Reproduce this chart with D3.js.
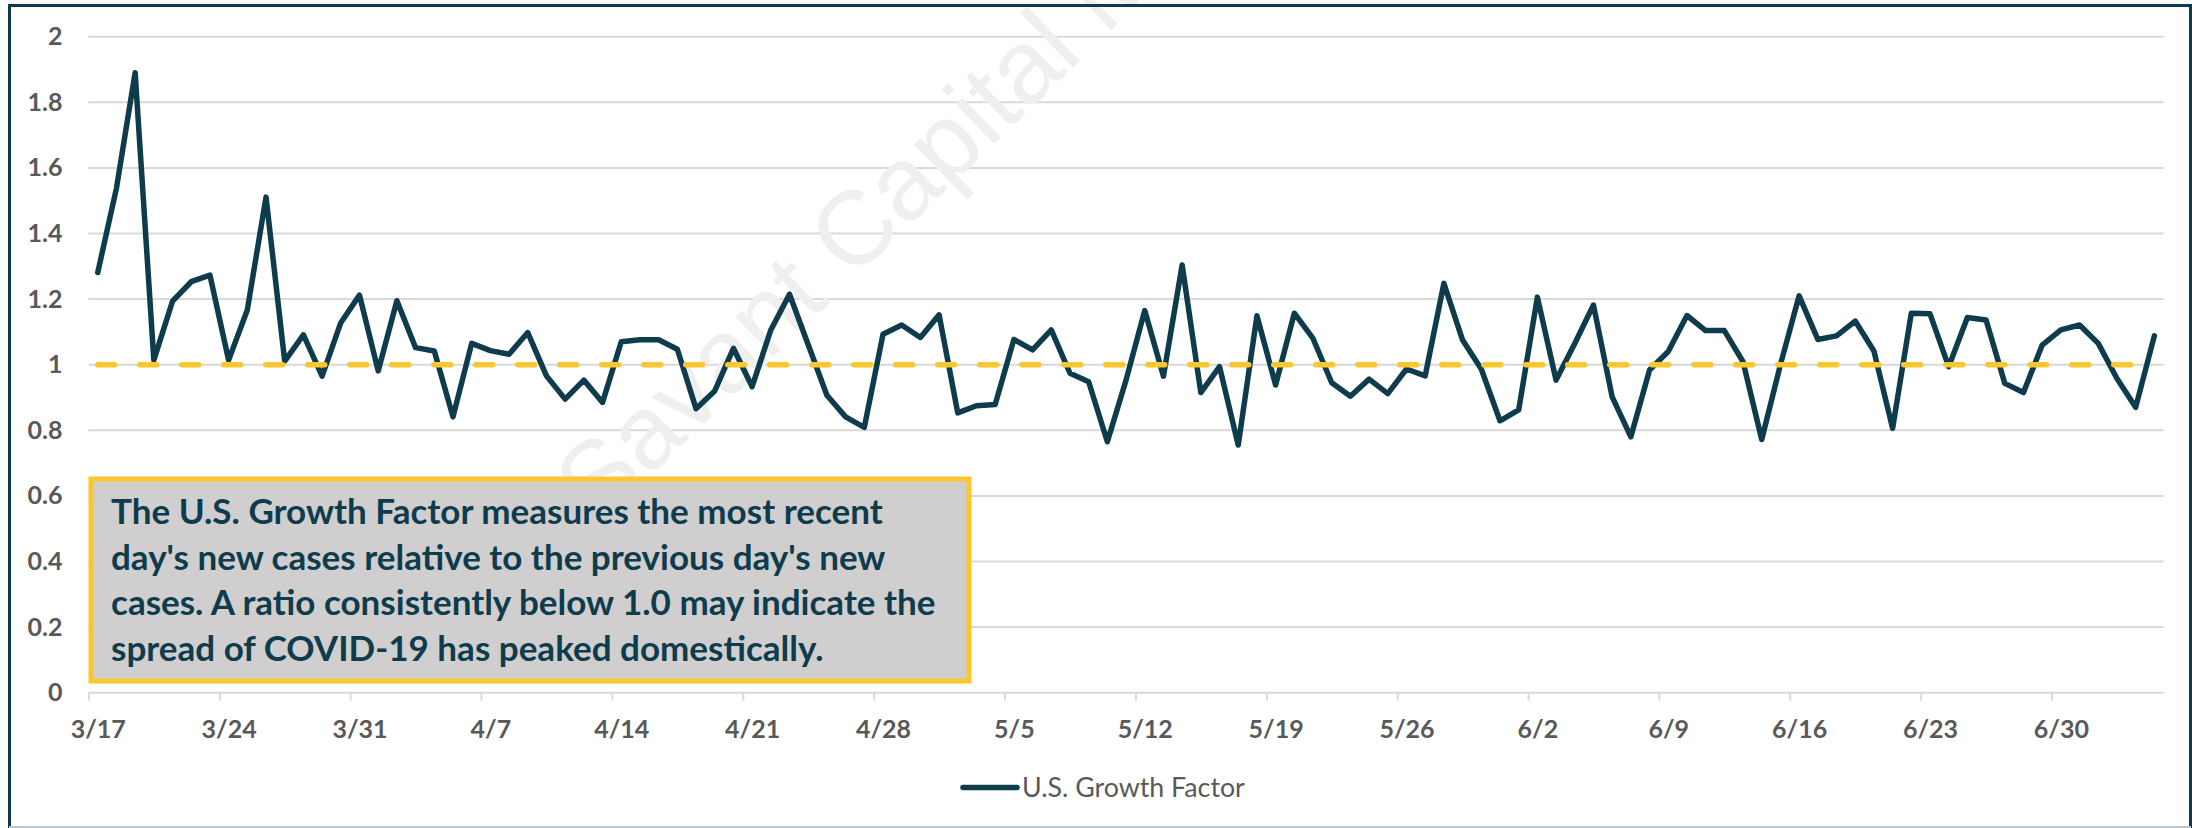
<!DOCTYPE html>
<html><head><meta charset="utf-8">
<script src="https://cdn.jsdelivr.net/npm/d3@7"></script>
<style>html,body{margin:0;padding:0;background:#fff;}svg{display:block}</style>
</head><body><svg id="c" width="2192" height="828"></svg>
<script>
// ---------- data ----------
const startDate = "2020-03-17";
const growthFactor = [
 1.281,1.538,1.890,1.014,1.194,1.253,1.273,1.014,1.167,1.511,
 1.011,1.091,0.965,1.128,1.212,0.981,1.195,1.052,1.042,0.841,
 1.065,1.043,1.032,1.098,0.966,0.895,0.953,0.885,1.070,1.076,
 1.076,1.047,0.866,0.920,1.050,0.933,1.106,1.215,1.061,0.907,
 0.841,0.809,1.093,1.121,1.083,1.152,0.853,0.875,0.879,1.077,
 1.045,1.106,0.974,0.948,0.765,0.953,1.165,0.965,1.304,0.915,
 0.994,0.755,1.149,0.938,1.157,1.080,0.945,0.904,0.956,0.912,
 0.987,0.966,1.248,1.075,0.987,0.829,0.862,1.206,0.953,1.065,
 1.182,0.902,0.780,0.984,1.040,1.150,1.104,1.104,1.009,0.772,
 1.000,1.210,1.077,1.088,1.133,1.042,0.806,1.157,1.155,0.994,
 1.144,1.136,0.943,0.915,1.060,1.106,1.121,1.065,0.958,0.870,
 1.088
];
const thresholdValue = 1.0;
const xTickLabels = ["3/17","3/24","3/31","4/7","4/14","4/21","4/28","5/5","5/12","5/19","5/26","6/2","6/9","6/16","6/23","6/30"];
const yTicks = [0,0.2,0.4,0.6,0.8,1,1.2,1.4,1.6,1.8,2];
const yTickLabels = ["0","0.2","0.4","0.6","0.8","1","1.2","1.4","1.6","1.8","2"];
const seriesName = "U.S. Growth Factor";
const noteLines = [
 "The U.S. Growth Factor measures the most recent",
 "day's new cases relative to the previous day's new",
 "cases. A ratio consistently below 1.0 may indicate the",
 "spread of COVID-19 has peaked domestically."
];
const watermarkText = "Savant Capital Management";

// ---------- setup ----------
const svg = d3.select("#c");
const W = 2192, H = 828;
const plot = {left: 88.4, right: 2163.7, top: 36.7, bottom: 692.7};
const C_LINE = "#0e3c4c", C_GOLD = "#fcc72e", C_GRID = "#d9d9d9", C_TXT = "#595959";
const FONT = "Lato, 'Open Sans', sans-serif";

const parse = d3.utcParse("%Y-%m-%d");
const d0 = parse(startDate);
const dates = growthFactor.map((_, i) => d3.utcDay.offset(d0, i));
const half = 12 * 3600 * 1000;
const x = d3.scaleUtc()
  .domain([new Date(+dates[0] - half), new Date(+dates[dates.length - 1] + half)])
  .range([plot.left, plot.right]);
const y = d3.scaleLinear().domain([0, 2]).range([plot.bottom, plot.top]);

const series = dates.map((d, i) => ({date: d, v: growthFactor[i]}));
const thresh = dates.map(d => ({date: d, v: thresholdValue}));

// ---------- gridlines ----------
svg.append("g").selectAll("line").data(yTicks).join("line")
  .attr("x1", plot.left).attr("x2", plot.right)
  .attr("y1", d => y(d)).attr("y2", d => y(d))
  .attr("stroke", C_GRID).attr("stroke-width", 2);

// ---------- watermark ----------
svg.append("text")
  .attr("transform", "translate(598,526) rotate(-44)")
  .attr("font-family", "'Liberation Sans', Arial, sans-serif")
  .attr("font-size", 104)
  .attr("fill", "#efefef")
  .text(watermarkText);

// ---------- y axis labels ----------
const yAxis = d3.axisLeft(y).tickValues(yTicks)
  .tickFormat((d, i) => yTickLabels[i]).tickSize(0).tickPadding(26);
const gy = svg.append("g").attr("transform", `translate(${plot.left},0)`).call(yAxis);
gy.select(".domain").remove();
gy.selectAll("text").attr("font-family", FONT).attr("font-size", 25)
  .attr("font-weight", "bold").attr("fill", C_TXT);

// ---------- x axis ----------
const labelDates = xTickLabels.map((_, i) => d3.utcDay.offset(d0, i * 7));
const tickBoundaries = labelDates.map(d => new Date(+d - half));
const gxTicks = svg.append("g").attr("transform", `translate(0,${plot.bottom})`)
  .call(d3.axisBottom(x).tickValues(tickBoundaries).tickFormat("").tickSize(8));
gxTicks.select(".domain").remove();
gxTicks.selectAll("line").attr("stroke", C_GRID).attr("stroke-width", 2);

const gx = svg.append("g").attr("transform", `translate(0,${plot.bottom})`)
  .call(d3.axisBottom(x).tickValues(labelDates).tickFormat((d, i) => xTickLabels[i]).tickSize(0).tickPadding(0));
gx.select(".domain").remove();
gx.selectAll("text").attr("dy", null).attr("y", 45)
  .attr("font-family", FONT).attr("font-size", 25)
  .attr("font-weight", "bold").attr("fill", C_TXT);

// ---------- lines ----------
const line = d3.line().x(d => x(d.date)).y(d => y(d.v));
svg.append("path").datum(series).attr("d", line)
  .attr("fill", "none").attr("stroke", C_LINE).attr("stroke-width", 5.5)
  .attr("stroke-linejoin", "round").attr("stroke-linecap", "round");
svg.append("path").datum(thresh).attr("d", line)
  .attr("fill", "none").attr("stroke", C_GOLD).attr("stroke-width", 5.5)
  .attr("stroke-dasharray", "17,25").attr("stroke-linecap", "round");

// ---------- annotation box ----------
svg.append("rect").attr("x", 91).attr("y", 479).attr("width", 878).attr("height", 202)
  .attr("fill", "#d0cecf").attr("stroke", C_GOLD).attr("stroke-width", 5);
const noteG = svg.append("g");
const noteBase = [524, 569.6, 615.2, 660.8];
const noteT = noteG.selectAll("text").data(noteLines).join("text")
  .attr("x", 111).attr("y", (d, i) => noteBase[i])
  .attr("font-family", FONT).attr("font-weight", "bold").attr("font-size", 30)
  .attr("fill", C_LINE).text(d => d);
{
  const w = noteT.nodes()[2].getComputedTextLength();
  const fs = 30 * 825 / w;
  noteT.attr("font-size", fs);
}

// ---------- legend ----------
svg.append("line").attr("x1", 963).attr("x2", 1017).attr("y1", 787.5).attr("y2", 787.5)
  .attr("stroke", C_LINE).attr("stroke-width", 5.5).attr("stroke-linecap", "round");
const legT = svg.append("text").attr("x", 1022).attr("y", 796.5)
  .attr("font-family", FONT).attr("font-size", 24).attr("fill", C_TXT).text(seriesName);
{
  const w = legT.node().getComputedTextLength();
  legT.attr("font-size", 24 * 223 / w);
}

// ---------- frame ----------
svg.append("path").attr("d", `M9.5,${H} L9.5,5.5 L2190.5,5.5 L2190.5,${H}`)
  .attr("fill", "none").attr("stroke", C_LINE).attr("stroke-width", 3);
svg.append("line").attr("x1", 9).attr("x2", 2191).attr("y1", 827).attr("y2", 827)
  .attr("stroke", "#bfc5ca").attr("stroke-width", 2);
</script></body></html>
